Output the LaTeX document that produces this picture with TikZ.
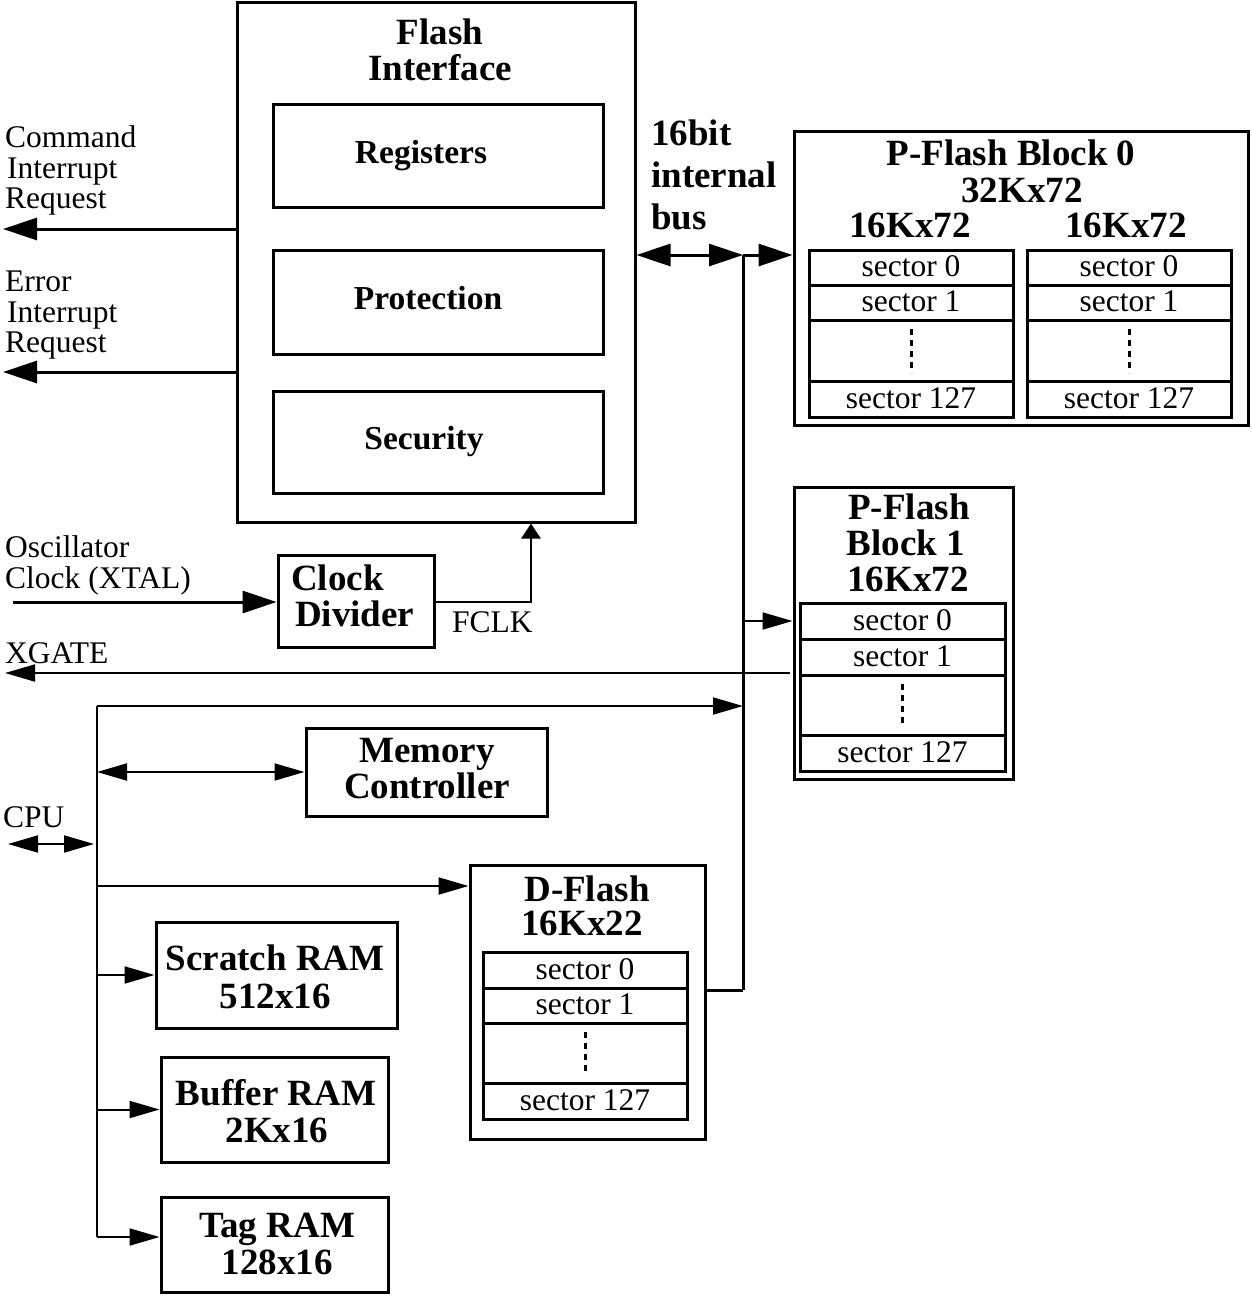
\documentclass[tikz,border=0pt]{standalone}
\usepackage{fontspec}
\setmainfont{Liberation Serif}
\usetikzlibrary{arrows.meta,fit}
\newcommand\myB{\fontsize{37}{37}\selectfont\bfseries}
\newcommand\myI{\fontsize{33.5}{34}\selectfont\bfseries}
\newcommand\myR{\fontsize{31.5}{32}\selectfont}
\newcommand\seccol[8]{%
  \node[box, fit={(#2,#4)(#3,#5)}] (#1-0) {};
  \node[box, fit={(#2,#5)(#3,#6)}] (#1-1) {};
  \node[box, fit={(#2,#6)(#3,#7)}] (#1-d) {};
  \node[box, fit={(#2,#7)(#3,#8)}] (#1-n) {};
  \node[stxt] (#1-0t) at ([yshift=1pt]#1-0.center) {sector 0};
  \node[stxt] (#1-1t) at ([yshift=1pt]#1-1.center) {sector 1};
  \node[stxt] (#1-nt) at ([yshift=1pt]#1-n.center) {sector 127};
  \draw[dotsl] ([yshift=-10pt]#1-d.north) -- ([yshift=10pt]#1-d.south);
}
\begin{document}
\begin{tikzpicture}[x=1pt,y=-1pt,
  box/.style={draw, line width=3pt, inner sep=0pt},
  btxt/.style={font=\myB, inner sep=0pt, anchor=base},
  bltxt/.style={font=\myB, inner sep=0pt, anchor=base west},
  itxt/.style={font=\myI, inner sep=0pt, anchor=base},
  rltxt/.style={font=\myR, inner sep=0pt, anchor=base west},
  stxt/.style={font=\myR, inner sep=0pt, anchor=center},
  lwA/.style={line width=3pt},
  lwB/.style={line width=2pt},
  lwC/.style={line width=2.6pt},
  bigarr/.style={-{Triangle[length=34pt,width=22pt]}},
  bigdbl/.style={{Triangle[length=34pt,width=22pt]}-{Triangle[length=34pt,width=22pt]}},
  midarr/.style={-{Triangle[length=30pt,width=17pt]}},
  middbl/.style={{Triangle[length=30pt,width=17pt]}-{Triangle[length=30pt,width=17pt]}},
  smallarr/.style={-{Triangle[length=15pt,width=19pt]}},
  dotsl/.style={line width=3pt, dash pattern=on 6pt off 5pt}
]
\useasboundingbox (0,0) rectangle (1251,1304);

% ---------- Flash Interface ----------
\node[box, fit={(237,2)(635,522)}] (fi) {};
\node[btxt] (fit1) at (440,44) {Flash};
\node[btxt] (fit2) at (440,80) {Interface};
\node[box, fit={(273,104)(603,207)}] (reg) {};
\node[itxt] (regt) at (421,163) {Registers};
\node[box, fit={(273,250)(603,354)}] (prot) {};
\node[itxt] (prott) at (428,309) {Protection};
\node[box, fit={(273,391)(603,493)}] (sec) {};
\node[itxt] (sect) at (424,449) {Security};

% ---------- left labels ----------
\node[rltxt] (cmd1) at (5,147) {Command};
\node[rltxt] (cmd2) at (7,178) {Interrupt};
\node[rltxt] (cmd3) at (5,208) {Request};
\node[rltxt] (err1) at (5,291) {Error};
\node[rltxt] (err2) at (7,322) {Interrupt};
\node[rltxt] (err3) at (5,352) {Request};
\coordinate (cmd) at (3,229);
\coordinate (err) at (3,372);
\draw[lwA, bigarr] (fi.west |- cmd) -- (cmd);
\draw[lwA, bigarr] (fi.west |- err) -- (err);

% ---------- bus ----------
\node[bltxt] (bus1) at (651,145) {16bit};
\node[bltxt] (bus2) at (651,187) {internal};
\node[bltxt] (bus3) at (651,229) {bus};

% ---------- P-Flash Block 0 ----------
\node[box, fit={(794,131)(1248,425)}] (pf0) {};
\node[btxt] (pf0t1) at (1011,165) {P-Flash Block 0};
\node[btxt] (pf0t2) at (1022,202) {32Kx72};
\node[btxt] (pf0t3) at (910,237) {16Kx72};
\node[btxt] (pf0t4) at (1126,237) {16Kx72};
\seccol{pa}{809}{1013}{250}{285}{320}{381}{417}
\seccol{pb}{1027}{1231}{250}{285}{320}{381}{417}

% ---------- P-Flash Block 1 ----------
\node[box, fit={(794,487)(1013,779)}] (pf1) {};
\node[btxt] (pf1t1) at (909,519) {P-Flash};
\node[btxt] (pf1t2) at (906,555) {Block 1};
\node[btxt] (pf1t3) at (908,591) {16Kx72};
\seccol{pc}{800}{1005}{603}{639}{675}{735}{771}

% ---------- bus connectors ----------
\coordinate (bus) at (743,255);
\coordinate (busbot) at (743,990);
\coordinate (b1) at (743,621);
\draw[lwA, bigdbl] (fi.east |- bus) -- (bus);
\draw[lwA, bigarr] (bus) -- (pf0.west |- bus);
\draw[lwA] (bus) -- (busbot);
\draw[lwB, midarr] (b1) -- (pf1.west |- b1);

% ---------- Clock ----------
\node[rltxt] (osc1) at (5,557) {Oscillator};
\node[rltxt] (osc2) at (5,588) {Clock (XTAL)};
\node[box, fit={(278,555)(434,647)}] (cd) {};
\node[bltxt] (cdt1) at (291,590) {Clock};
\node[bltxt] (cdt2) at (295,626) {Divider};
\node[rltxt] (fclk) at (452,632) {FCLK};
\coordinate (osc) at (13,602);
\coordinate (fk) at (531,602);
\draw[lwA, bigarr] (osc) -- (cd.west |- osc);
\draw[lwC, smallarr] (cd.east |- fk) -- (fk) -- (fi.south -| fk);

% ---------- XGATE ----------
\node[rltxt] (xgt) at (5,663) {XGATE};
\coordinate (xg) at (790,673);
\coordinate (xgl) at (5,673);
\draw[lwB, midarr] (xg) -- (xgl);

% ---------- CPU side ----------
\node[rltxt] (cput) at (3,827) {CPU};
\coordinate (cpul) at (8,844);
\coordinate (cpur) at (94,844);
\draw[lwB, middbl] (cpul) -- (cpur);
\coordinate (cpuT) at (97,706);
\coordinate (cpuB) at (97,1237);
\coordinate (dfa) at (97,886);
\draw[lwB] (cpuT) -- (cpuB);
\draw[lwB, midarr] (cpuT) -- (bus |- cpuT);

\node[box, fit={(306,728)(547,816)}] (mc) {};
\node[btxt] (mct1) at (427,762) {Memory};
\node[btxt] (mct2) at (427,798) {Controller};
\draw[lwB, middbl] (cpuT |- mc.west) -- (mc.west);

% ---------- D-Flash ----------
\node[box, fit={(470,865)(705,1139)}] (df) {};
\node[btxt] (dft1) at (587,901) {D-Flash};
\node[btxt] (dft2) at (582,935) {16Kx22};
\seccol{pd}{483}{687}{952}{988}{1023}{1083}{1119}
\draw[lwB, midarr] (dfa) -- (df.west |- dfa);
\draw[lwA] (busbot) -- (df.east |- busbot);

% ---------- RAMs ----------
\node[box, fit={(156,922)(397,1028)}] (sr) {};
\node[btxt] (srt1) at (275,970) {Scratch RAM};
\node[btxt] (srt2) at (275,1008) {512x16};
\node[box, fit={(161,1057)(388,1162)}] (br) {};
\node[btxt] (brt1) at (276,1105) {Buffer RAM};
\node[btxt] (brt2) at (277,1142) {2Kx16};
\node[box, fit={(161,1197)(388,1292)}] (tr) {};
\node[btxt] (trt1) at (277,1237) {Tag RAM};
\node[btxt] (trt2) at (277,1274) {128x16};
\draw[lwB, midarr] (cpuT |- sr.west) -- (sr.west);
\draw[lwB, midarr] (cpuT |- br.west) -- (br.west);
\draw[lwB, midarr] (cpuB) -- (tr.west |- cpuB);
\end{tikzpicture}
\end{document}
